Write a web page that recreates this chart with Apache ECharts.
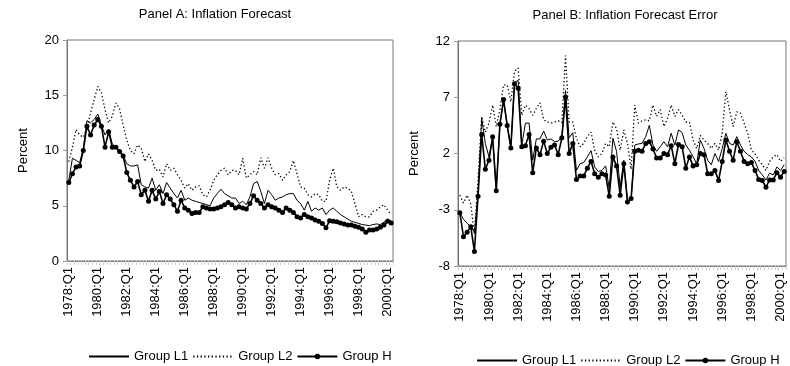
<!DOCTYPE html>
<html>
<head>
<meta charset="utf-8">
<script src="https://cdn.jsdelivr.net/npm/echarts@6/dist/echarts.min.js"></script>
<style>
  html, body { margin: 0; padding: 0; background: #fff; }
  #chart { width: 790px; height: 366px; }
</style>
</head>
<body>
<div id="chart"></div>
<script>
// Quarterly categories 1978:Q1 .. 2000:Q2
const categories = [];
for (let y = 1978; y <= 2000; y++) {
  for (let q = 1; q <= 4; q++) {
    if (y === 2000 && q > 2) break;
    categories.push(y + ':Q' + q);
  }
}

// Panel A: Inflation Forecast (percent)
const aL1 = [7.3, 9.3, 9.1, 8.9, 10.2, 12.7, 12.5, 12.8, 13.3, 12.3,
  11.4, 11.9, 10.6, 10.3, 10.0, 9.6, 8.8, 8.6, 8.6, 8.7,
  6.9, 6.7, 6.6, 7.5, 6.4, 6.9, 6.1, 7.1, 6.6, 6.1,
  5.7, 6.4, 5.5, 5.7, 5.5, 5.4, 5.3, 5.2, 5.1, 5.0,
  5.7, 6.1, 6.5, 6.1, 5.9, 5.7, 5.7, 5.2, 5.4, 5.1,
  5.8, 7.0, 7.2, 6.3, 5.2, 6.4, 6.0, 5.5, 5.7, 5.8,
  6.0, 6.1, 6.1, 5.5, 5.2, 4.6, 5.4, 4.5, 4.8, 4.6,
  4.8, 4.2, 4.6, 4.8, 4.5, 4.2, 4.0, 3.8, 3.6, 3.5,
  3.4, 3.3, 3.25, 3.2, 3.3, 3.35, 3.3, 3.5, 3.8, 3.6];
const aL2 = [9.0, 10.3, 11.9, 11.4, 11.2, 12.0, 13.4, 14.6, 15.8, 15.2,
  13.7, 12.5, 13.1, 14.3, 13.8, 12.3, 10.95, 10.0, 9.7, 10.5,
  10.2, 9.0, 9.7, 9.1, 8.2, 8.3, 7.6, 8.8, 8.2, 8.4,
  7.8, 7.3, 6.6, 7.0, 6.4, 6.7, 6.8, 6.0, 5.8, 6.4,
  7.3, 7.8, 8.2, 8.4, 7.8, 8.2, 8.2, 7.8, 9.3, 7.5,
  7.8, 8.1, 7.8, 9.35, 8.4, 9.35, 8.4, 7.8, 7.9, 7.3,
  7.8, 8.1, 9.1, 7.9, 6.7, 6.6, 6.0, 5.8, 6.1, 6.0,
  5.4, 5.4, 7.3, 8.4, 6.7, 6.4, 6.7, 6.6, 6.3, 5.2,
  4.0, 4.2, 4.0, 4.0, 4.5, 4.6, 4.9, 5.1, 4.6, 4.2];
const aH = [7.1, 7.9, 8.5, 8.6, 10.0, 12.2, 11.4, 12.3, 12.8, 12.2,
  10.3, 11.7, 10.3, 10.3, 9.9, 9.5, 8.0, 7.3, 6.7, 7.2,
  6.0, 6.4, 5.4, 6.4, 5.6, 6.3, 5.2, 6.0, 5.6, 5.1,
  4.5, 5.5, 4.8, 4.6, 4.3, 4.4, 4.4, 4.9, 4.8, 4.7,
  4.7, 4.8, 4.9, 5.1, 5.3, 5.1, 4.8, 4.9, 4.8, 4.7,
  5.2, 5.9, 5.5, 5.2, 4.8, 5.1, 4.9, 4.8, 4.6, 4.4,
  4.8, 4.6, 4.4, 4.0, 3.9, 4.2, 4.0, 3.9, 3.7, 3.6,
  3.4, 3.0, 3.65, 3.6, 3.55, 3.45, 3.35, 3.25, 3.25, 3.15,
  3.05, 2.9, 2.6, 2.8, 2.8, 2.9, 3.05, 3.25, 3.6, 3.45];

// Panel B: Inflation Forecast Error (percent)
const bL1 = [-3.26, -3.85, -4.2, -4.5, -5.0, -1.5, 5.1, 2.9, 1.7, 3.4,
  -1.2, 4.6, 6.7, 4.5, 2.5, 8.3, 8.5, 2.7, 4.7, 4.7,
  1.4, 3.3, 3.3, 4.0, 3.2, 3.3, 3.05, 3.1, 3.55, 7.6,
  3.4, 3.85, 0.5, 1.1, 1.2, 1.7, 2.25, 0.8, 0.4, 0.5,
  0.9, -1.1, 3.35, 2.2, -0.95, 1.4, -2.2, -2.1, 2.75, 2.85,
  2.9, 3.5, 4.5, 2.75, 2.2, 2.6, 3.05, 2.6, 3.8, 2.75,
  4.1, 3.85, 2.75, 2.3, 1.7, 1.1, 3.2, 2.45, 1.4, 1.0,
  2.0, 1.3, 2.45, 3.8, 2.9, 2.75, 3.5, 2.75, 2.2, 1.9,
  1.7, 1.3, 0.5, 0.1, -0.35, 0.25, 0.1, 0.8, 0.5, 1.0];
const bL2 = [-1.7, -2.4, -1.7, -2.5, -5.2, -0.3, 5.3, 3.9, 4.7, 6.3,
  4.4, 5.9, 8.1, 8.1, 6.6, 9.3, 9.6, 5.4, 6.3, 6.0,
  5.4, 6.0, 6.5, 5.0, 4.8, 4.7, 4.8, 4.9, 4.75, 10.7,
  4.8, 4.8, 3.35, 2.6, 2.9, 3.5, 3.9, 2.3, 1.7, 2.0,
  2.9, 2.6, 4.8, 4.2, 2.3, 4.1, 2.9, 0.6, 6.3, 4.7,
  4.9, 5.0, 4.9, 6.3, 5.3, 5.9, 4.4, 5.1, 6.3, 5.3,
  5.9, 5.4, 4.8, 4.8, 3.2, 2.45, 3.6, 3.2, 2.9, 2.45,
  2.9, 2.3, 3.8, 7.5, 5.9, 4.4, 5.7, 5.6, 4.7, 3.8,
  2.3, 2.0, 1.4, 1.0, 0.5, 1.3, 1.7, 1.9, 1.3, 1.6];
const bH = [-3.26, -5.4, -5.0, -4.5, -6.7, -1.8, 3.7, 0.6, 1.4, 3.5,
  -1.3, 4.6, 6.8, 4.5, 2.5, 8.2, 7.8, 2.6, 2.7, 3.7,
  0.3, 2.5, 1.9, 3.1, 2.0, 2.55, 2.75, 1.9, 3.4, 7.0,
  2.0, 2.9, -0.3, 0.0, 0.0, 0.7, 1.3, 0.2, -0.1, 0.2,
  0.1, -1.8, 1.7, 0.9, -1.7, 1.1, -2.3, -2.0, 2.2, 2.3,
  2.2, 2.9, 3.05, 2.4, 1.6, 1.6, 2.0, 1.9, 2.7, 1.1,
  2.8, 2.6, 0.7, 1.7, 0.9, 1.0, 2.0, 1.9, 0.2, 0.2,
  0.5, -0.4, 1.3, 3.2, 2.2, 1.4, 3.05, 2.2, 1.3, 1.1,
  1.2, 0.5, -0.3, -0.4, -1.0, -0.35, -0.35, 0.3, -0.1, 0.4];

const seriesNames = ['Group L1', 'Group L2', 'Group H'];
const titles = ['Panel A: Inflation Forecast', 'Panel B: Inflation Forecast Error'];
const yTicksA = { min: 0, max: 20, interval: 5 };
const yTicksB = { min: -8, max: 12, interval: 5 };

const FONT = '"Liberation Sans", Arial, sans-serif';
const txt = { fontFamily: FONT, fontSize: 13, color: '#000' };

function xAxis(gi) {
  return {
    type: 'category', gridIndex: gi, data: categories, boundaryGap: true,
    axisLine: { show: true, onZero: false, lineStyle: { color: '#777', width: 1 } },
    axisTick: { show: true, interval: 0, length: 4, lineStyle: { color: '#cfcfcf' } },
    axisLabel: Object.assign({ interval: 7, rotate: 90, margin: 6 }, txt),
    splitLine: { show: false }
  };
}
function yAxis(gi, t) {
  return {
    type: 'value', gridIndex: gi, min: t.min, max: t.max, interval: t.interval,
    name: 'Percent', nameLocation: 'middle', nameRotate: 90, nameGap: 37,
    nameTextStyle: txt,
    axisLine: { show: true, lineStyle: { color: '#777', width: 1 } },
    axisTick: { show: true, length: 4, lineStyle: { color: '#999' } },
    axisLabel: Object.assign({ margin: 8 }, txt),
    splitLine: { show: false }
  };
}
function mk(gi, l1, l2, h) {
  return [
    { name: seriesNames[0], type: 'line', xAxisIndex: gi, yAxisIndex: gi, data: l1,
      symbol: 'none', animation: false, color: '#000',
      lineStyle: { color: '#000', width: 1 } },
    { name: seriesNames[1], type: 'line', xAxisIndex: gi, yAxisIndex: gi, data: l2,
      symbol: 'none', animation: false, color: '#000',
      lineStyle: { color: '#000', width: 1.3, type: [1.3, 2.4] } },
    { name: seriesNames[2], type: 'line', xAxisIndex: gi, yAxisIndex: gi, data: h,
      symbol: 'circle', symbolSize: 5, showAllSymbol: true, animation: false, color: '#000',
      itemStyle: { color: '#000' },
      lineStyle: { color: '#000', width: 1.6 } }
  ];
}
function legendData() {
  const hidden = { opacity: 0, color: 'rgba(0,0,0,0)', borderWidth: 0 };
  return [
    { name: seriesNames[0], itemStyle: hidden },
    { name: seriesNames[1], itemStyle: hidden },
    { name: seriesNames[2] }
  ];
}

const chart = echarts.init(document.getElementById('chart'), null, { renderer: 'canvas' });
chart.setOption({
  backgroundColor: '#fff',
  animation: false,
  title: [
    { text: titles[0], left: 210, top: 3, textAlign: 'center',
      textStyle: Object.assign({}, txt, { fontWeight: 'normal' }) },
    { text: titles[1], left: 620, top: 4, textAlign: 'center',
      textStyle: Object.assign({}, txt, { fontWeight: 'normal' }) }
  ],
  grid: [
    { left: 67, right: 397, top: 40, bottom: 105, show: true, borderColor: '#777', borderWidth: 1, containLabel: false },
    { left: 458, right: 4, top: 41, bottom: 100, show: true, borderColor: '#777', borderWidth: 1, containLabel: false }
  ],
  legend: [
    { data: legendData(), left: 83, top: 345, width: 330, itemWidth: 40, itemHeight: 7, itemGap: 4,
      textStyle: txt, selectedMode: false },
    { data: legendData(), left: 471, top: 349, width: 330, itemWidth: 40, itemHeight: 7, itemGap: 4,
      textStyle: txt, selectedMode: false }
  ],
  xAxis: [xAxis(0), xAxis(1)],
  yAxis: [yAxis(0, yTicksA), yAxis(1, yTicksB)],
  series: mk(0, aL1, aL2, aH).concat(mk(1, bL1, bL2, bH))
});
</script>
</body>
</html>
